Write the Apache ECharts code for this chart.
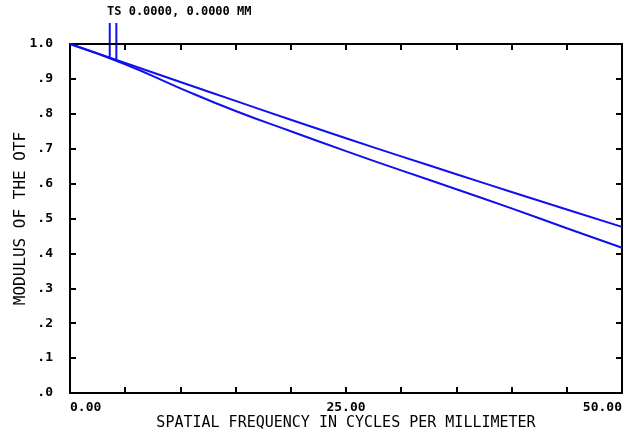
<!DOCTYPE html>
<html>
<head>
<meta charset="utf-8">
<script src="https://cdn.jsdelivr.net/npm/echarts@6/dist/echarts.min.js"></script>
<style>
  html, body { margin: 0; padding: 0; background: #fff; }
  #chart { width: 630px; height: 435px; }
</style>
</head>
<body>
<div id="chart"></div>
<script>
// spatial frequency (cycles/mm)
const freq = [0, 5, 10, 15, 20, 25, 30, 35, 40, 45, 50]
// tangential / sagittal MTF at field 0.0000, 0.0000 MM
const mtfUpper = [1.0, 0.946, 0.891, 0.837, 0.783, 0.730, 0.678, 0.627, 0.576, 0.526, 0.476]
const mtfLower = [1.0, 0.942, 0.873, 0.808, 0.750, 0.693, 0.638, 0.584, 0.529, 0.472, 0.416]
// legend marker positions (frequency where the TS marks touch the curves)
const markerFreq = [3.6, 4.2]
const legendText = 'TS 0.0000, 0.0000 MM'

const FONT = 'DejaVu Sans Mono'
const INK = '#000'
const BLUE = '#1010ee'

const toPairs = (xs, ys) => xs.map((x, i) => [x, ys[i]])

const interp = (xs, ys, x) => {
  for (let i = 1; i < xs.length; i++) {
    if (x <= xs[i]) {
      const t = (x - xs[i - 1]) / (xs[i] - xs[i - 1])
      return ys[i - 1] + t * (ys[i] - ys[i - 1])
    }
  }
  return ys[ys.length - 1]
}

const chart = echarts.init(document.getElementById('chart'))

// axes form a closed frame, ticks point into the plot
const axisLine = { show: true, onZero: false, lineStyle: { color: INK, width: 2 } }
const tick = { show: true, inside: true, length: 6, lineStyle: { color: INK, width: 2 } }

const option = {
  animation: false,
  backgroundColor: '#fff',
  grid: { left: 70, right: 8, top: 44, bottom: 42, containLabel: false, outerBoundsMode: 'none' },
  xAxis: [
    {
      type: 'value', min: 0, max: 50, interval: 5,
      axisLine, axisTick: tick, splitLine: { show: false },
      axisLabel: {
        margin: 8, color: INK, fontFamily: FONT, fontSize: 13, fontWeight: 'bold',
        alignMinLabel: 'left', alignMaxLabel: 'right',
        formatter: v => (v % 25 === 0 ? v.toFixed(2) : '')
      },
      name: 'SPATIAL FREQUENCY IN CYCLES PER MILLIMETER',
      nameLocation: 'middle', nameGap: 23, nameMoveOverlap: false,
      nameTextStyle: { color: INK, fontFamily: FONT, fontSize: 15 }
    },
    {
      type: 'value', position: 'top', min: 0, max: 50, interval: 5,
      axisLine, axisTick: tick, axisLabel: { show: false }, splitLine: { show: false }
    }
  ],
  yAxis: [
    {
      type: 'value', min: 0, max: 1, interval: 0.1,
      axisLine, axisTick: tick, splitLine: { show: false },
      axisLabel: {
        margin: 17, color: INK, fontFamily: FONT, fontSize: 13, fontWeight: 'bold',
        formatter: v => (v >= 1 ? '1.0' : '.' + Math.round(v * 10))
      },
      name: 'MODULUS OF THE OTF',
      nameLocation: 'middle', nameGap: 41, nameRotate: 90, nameMoveOverlap: false,
      nameTextStyle: { color: INK, fontFamily: FONT, fontSize: 16 }
    },
    {
      type: 'value', position: 'right', min: 0, max: 1, interval: 0.1,
      axisLine, axisTick: tick, axisLabel: { show: false }, splitLine: { show: false }
    }
  ],
  series: [
    {
      type: 'line', data: toPairs(freq, mtfUpper), smooth: true,
      showSymbol: false, lineStyle: { color: BLUE, width: 2 }
    },
    {
      type: 'line', data: toPairs(freq, mtfLower), smooth: true,
      showSymbol: false, lineStyle: { color: BLUE, width: 2 }
    }
  ]
}

chart.setOption(option)

// TS legend marks: vertical ticks from the label down to the curves
const curves = [mtfLower, mtfUpper]
const marks = markerFreq.map((f, i) => {
  const p = chart.convertToPixel({ gridIndex: 0 }, [f, interp(freq, curves[i], f)])
  return {
    type: 'line',
    shape: { x1: p[0], y1: 23, x2: p[0], y2: p[1] },
    style: { stroke: BLUE, lineWidth: 2 }
  }
})

chart.setOption({
  graphic: [
    ...marks,
    {
      type: 'text', left: 107, top: 6,
      style: { text: legendText, fill: INK, font: 'bold 12px "' + FONT + '"' }
    }
  ]
})
</script>
</body>
</html>
